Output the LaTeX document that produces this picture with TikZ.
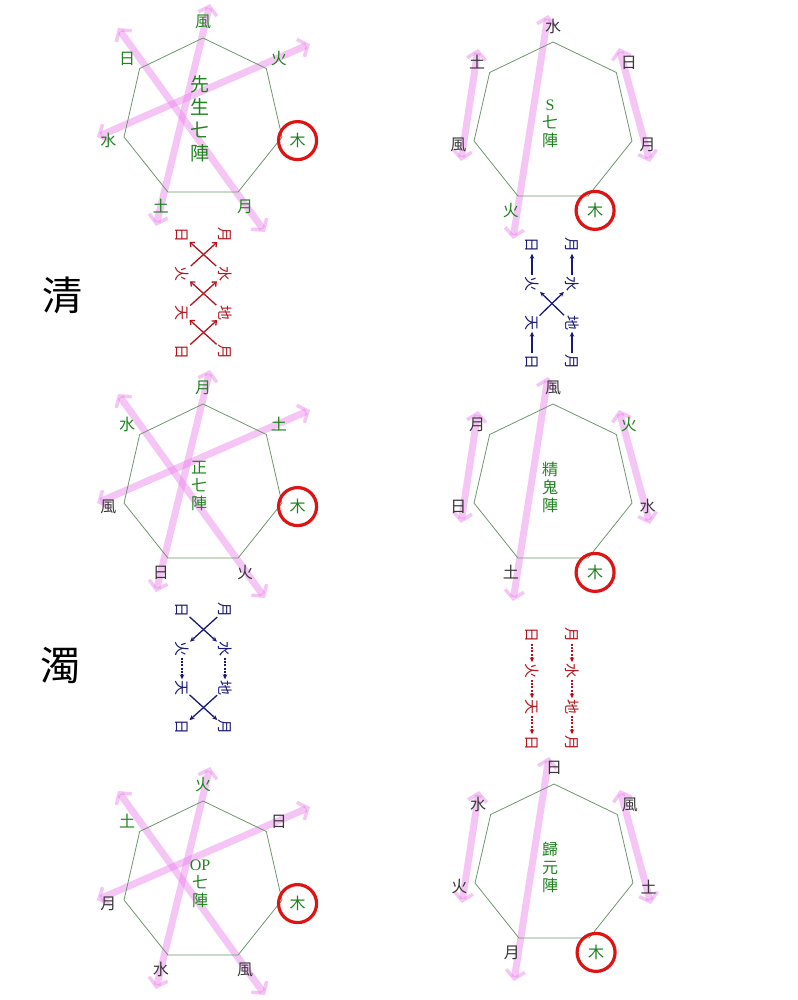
\documentclass[tikz,border=0pt]{standalone}
\usepackage{fontspec}
\setmainfont{Liberation Serif}
\newfontfamily\cjk{Noto Sans CJK TC}
\usepackage{xcolor}
\definecolor{heptGreen}{RGB}{110,150,110}
\definecolor{labg}{RGB}{30,130,30}
\definecolor{labd}{RGB}{55,55,55}
\definecolor{ringRed}{RGB}{222,20,20}
\definecolor{arrPink}{RGB}{232,120,232}
\definecolor{qingRed}{RGB}{180,20,30}
\definecolor{zhuoBlue}{RGB}{25,25,120}
\usepackage{tikz}
\usetikzlibrary{arrows.meta,calc}
\tikzset{
  pinktip/.tip={Straight Barb[length=8pt,width=19pt,line width=3.5pt]},
  smalltip/.tip={Stealth[length=5pt,width=4.5pt]},
  bartip/.tip={Straight Barb[length=3.5pt,width=6pt]}
}

\begin{document}
\begin{tikzpicture}[x=1pt, y=-1pt,
    hept/.style={draw=heptGreen, line width=0.8pt},
    vlab/.style={font=\cjk\fontsize{16}{16}\selectfont, inner sep=1pt},
    lab-g/.style={vlab, text=labg},
    lab-d/.style={vlab, text=labd},
    lab-r/.style={vlab, text=labg, circle, draw=ringRed, line width=3.2pt, minimum size=38pt},
    pinkarr/.style={draw=arrPink, line width=7pt, opacity=.42, pinktip-pinktip},
    title/.style={text=labg, align=center, font=\cjk\fontsize{16}{18}\selectfont},
    big/.style={font=\cjk\fontsize{40}{40}\selectfont},
    slab/.style={font=\cjk\fontsize{15}{15}\selectfont, rotate=-90, inner sep=1pt},
    sarr/.style={line width=1.3pt, -smalltip},
    dsarr/.style={sarr, dash pattern=on 2pt off 1.3pt},
    xarr/.style={line width=1.3pt, -bartip, shorten <=1pt}]
  \useasboundingbox (0,0) rectangle (797,1000);
  % left column of heptagons
  \foreach \n/\cx/\cy/\labs in {
      a/203/119/{風/g,火/g,木/r,月/g,土/g,水/g,日/g},
      c/203/485/{月/g,土/g,木/r,火/d,日/d,風/d,水/g},
      e/203/882/{火/g,日/d,木/r,風/d,水/d,月/d,土/g}} {
    \draw[pinkarr] (\cx-85,\cy-91) -- (\cx+62,\cy+113);
    \draw[pinkarr] (\cx-106,\cy+18) -- (\cx+107,\cy-75);
    \draw[pinkarr] (\cx+7,\cy-115) -- (\cx-47,\cy+107);
    \draw[hept] (\cx,\cy) +(-90:81) \foreach \k in {1,...,6} { -- +(-90+\k*360/7:81) } -- cycle;
    \foreach \l/\c [count=\k from 0] in \labs
      \node[lab-\c] (h\n\k) at ($(\cx,\cy)+(-90+\k*360/7:97)$) {\l};
  }
  % right column of heptagons
  \foreach \n/\cx/\cy/\labs in {
      b/553/123/{水/d,日/d,月/d,木/r,火/g,風/d,土/d},
      d/553/485/{風/d,火/g,水/d,木/r,土/d,日/d,月/d},
      f/554/865/{日/d,風/d,土/d,木/r,月/d,火/d,水/d}} {
    \draw[pinkarr] (\cx-5,\cy-108) -- (\cx-40,\cy+116);
    \draw[pinkarr] (\cx-75,\cy-74) -- (\cx-92,\cy+38);
    \draw[pinkarr] (\cx+66,\cy-75) -- (\cx+97,\cy+39);
    \draw[hept] (\cx,\cy) +(-90:81) \foreach \k in {1,...,6} { -- +(-90+\k*360/7:81) } -- cycle;
    \foreach \l/\c [count=\k from 0] in \labs
      \node[lab-\c] (h\n\k) at ($(\cx,\cy)+(-90+\k*360/7:97)$) {\l};
  }
  % titles
  \node[title, font=\cjk\fontsize{19}{23}\selectfont] (ta) at (200,119) {先\\生\\七\\陣};
  \node[title] (tb) at (550,124) {{\rmfamily S}\\七\\陣};
  \node[title] (tc) at (199,486) {正\\七\\陣};
  \node[title] (td) at (550,487) {精\\鬼\\陣};
  \node[title] (te) at (200,884) {{\rmfamily OP}\\七\\陣};
  \node[title] (tf) at (550,867) {歸\\元\\陣};
  \node[big] (qing) at (62,295) {清};
  \node[big] (zhuo) at (60,665) {濁};
  % qing, left
  \foreach \t/\u [count=\i from 0] in {日/月,火/水,天/地,日/月} {
    \node[slab, text=qingRed] (qa-l\i) at (182,235+39*\i) {\t};
    \node[slab, text=qingRed] (qa-r\i) at (225,235+39*\i) {\u};
  }
  \foreach \i/\j in {0/1,1/2,2/3} {
    \draw[xarr, qingRed] (qa-l\j) -- (qa-r\i);
    \draw[xarr, qingRed] (qa-r\j) -- (qa-l\i);
  }
  % qing, right
  \foreach \t/\u [count=\i from 0] in {日/月,火/水,天/地,日/月} {
    \node[slab, text=zhuoBlue] (sb-l\i) at (532,245+39*\i) {\t};
    \node[slab, text=zhuoBlue] (sb-r\i) at (572,245+39*\i) {\u};
  }
  \foreach \i/\j in {3/2,1/0} {
    \draw[sarr, zhuoBlue] (sb-l\i) -- (sb-l\j);
    \draw[sarr, zhuoBlue] (sb-r\i) -- (sb-r\j);
  }
  \draw[sarr, zhuoBlue] (sb-l2) -- (sb-r1);
  \draw[sarr, zhuoBlue] (sb-r2) -- (sb-l1);
  % zhuo, left
  \foreach \t/\u [count=\i from 0] in {日/月,火/水,天/地,日/月} {
    \node[slab, text=zhuoBlue] (zc-l\i) at (182,610+39*\i) {\t};
    \node[slab, text=zhuoBlue] (zc-r\i) at (225,610+39*\i) {\u};
  }
  \foreach \i/\j in {0/1,2/3} {
    \draw[sarr, zhuoBlue] (zc-l\i) -- (zc-r\j);
    \draw[sarr, zhuoBlue] (zc-r\i) -- (zc-l\j);
  }
  \draw[dsarr, zhuoBlue] (zc-l1) -- (zc-l2);
  \draw[dsarr, zhuoBlue] (zc-r1) -- (zc-r2);
  % zhuo, right
  \foreach \t/\u [count=\i from 0] in {日/月,火/水,天/地,日/月} {
    \node[slab, text=qingRed] (zd-l\i) at (532,635+36*\i) {\t};
    \node[slab, text=qingRed] (zd-r\i) at (572,635+36*\i) {\u};
  }
  \foreach \i/\j in {0/1,1/2,2/3} {
    \draw[dsarr, qingRed] (zd-l\i) -- (zd-l\j);
    \draw[dsarr, qingRed] (zd-r\i) -- (zd-r\j);
  }
\end{tikzpicture}
\end{document}
